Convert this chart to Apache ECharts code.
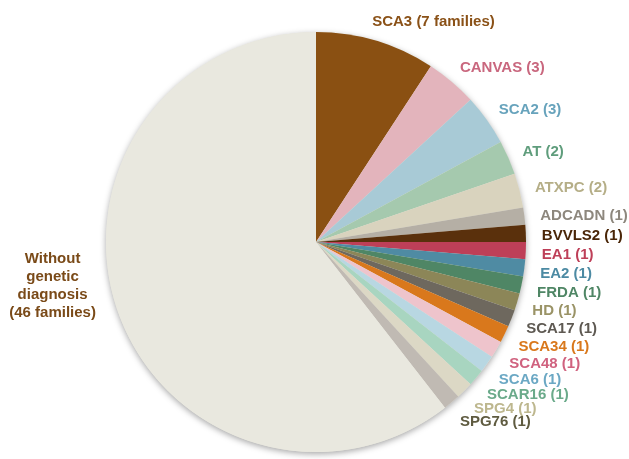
<!DOCTYPE html>
<html>
<head>
<meta charset="utf-8">
<script src="https://cdn.jsdelivr.net/npm/echarts@6/dist/echarts.min.js"></script>
<style>
html,body{margin:0;padding:0;background:#fff;}
#chart{width:629px;height:459px;}
</style>
</head>
<body>
<div id="chart"></div>
<script>
var categories = ['SCA3','CANVAS','SCA2','AT','ATXPC','ADCADN','BVVLS2','EA1','EA2','FRDA','HD','SCA17','SCA34','SCA48','SCA6','SCAR16','SPG4','SPG76','Without genetic diagnosis'];
var values = [7,3,3,2,2,1,1,1,1,1,1,1,1,1,1,1,1,1,46];
var labelTexts = ['SCA3 (7 families)','CANVAS (3)','SCA2 (3)','AT (2)','ATXPC (2)','ADCADN (1)','BVVLS2 (1)','EA1 (1)','EA2 (1)','FRDA (1)','HD (1)','SCA17 (1)','SCA34 (1)','SCA48 (1)','SCA6 (1)','SCAR16 (1)','SPG4 (1)','SPG76 (1)','Without\ngenetic\ndiagnosis\n(46 families)'];
var sliceColors = ['#8A5012','#E3B4BC','#A8CAD6','#A5C9AE','#D9D3BE','#B5AFA5','#5A300C','#BE3F58','#4F8BA3','#4F8665','#8C8658','#6E685E','#D9781C','#EEC4CC','#B8D7E2','#A8D5C0','#DCD8C5','#C0BAB3','#E9E8DF'];
var labelColors = ['#8A5117','#C9677E','#67A3BC','#5F9D7C','#B5AE87','#8D877D','#4A2608','#BE3F58','#4C8AA3','#4F8665','#9A9366','#5E5952','#D9781C','#D0627F','#6BA8C4','#6AAA8A','#BDB78E','#5F5B40','#7A4A18'];

var bigIndex = values.length - 1;
var data = categories.map(function (c, i) {
  return {
    name: c,
    value: values[i],
    itemStyle: { color: sliceColors[i] },
    label: {
      color: labelColors[i],
      formatter: labelTexts[i],
      lineHeight: i === bigIndex ? 18 : 15
    }
  };
});

var chart = echarts.init(document.getElementById('chart'), null, { renderer: 'canvas' });
chart.setOption({
  animation: false,
  series: [
    {
      type: 'pie',
      silent: true,
      center: [316, 242],
      radius: 210,
      z: 1,
      label: { show: false },
      labelLine: { show: false },
      itemStyle: {
        color: '#E9E8DF',
        shadowBlur: 6,
        shadowOffsetY: 2,
        shadowColor: 'rgba(0,0,0,0.35)'
      },
      data: [{ value: 1, name: 'bg' }]
    },
    {
      type: 'pie',
      center: [316, 242],
      radius: 210,
      startAngle: 90,
      clockwise: true,
      z: 2,
      avoidLabelOverlap: false,
      label: {
        show: true,
        position: 'outside',
        overflow: 'none',
        fontFamily: 'Liberation Sans, Arial, sans-serif',
        fontWeight: 'bold',
        fontSize: 15
      },
      labelLine: { show: false, length: 22, length2: 0 },
      labelLayout: function (params) {
        if (params.dataIndex === bigIndex) {
          return { align: 'center', dx: -39, dy: -31 };
        }
        if (params.dataIndex === 0) {
          return { dx: -15, dy: 2 };
        }
        return { dx: -11, dy: 3 };
      },
      data: data
    }
  ]
});
</script>
</body>
</html>
